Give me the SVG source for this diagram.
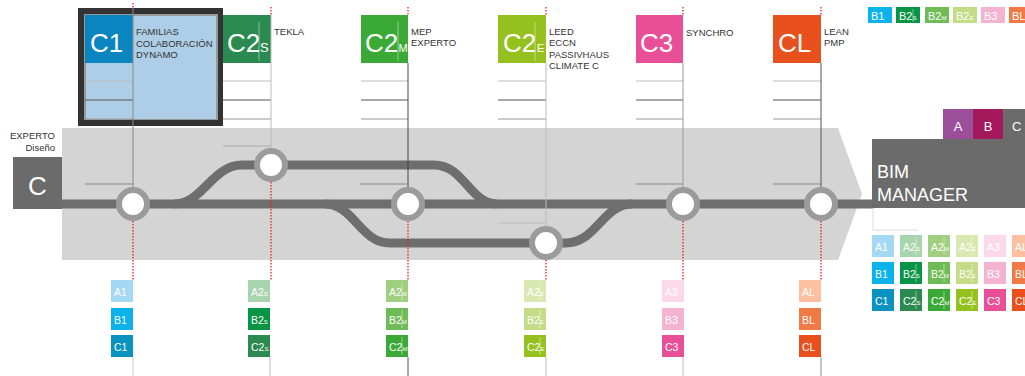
<svg xmlns="http://www.w3.org/2000/svg" width="1025" height="376" viewBox="0 0 1025 376">
<style>
text{font-family:"Liberation Sans",Arial,sans-serif}
.lbl{font-size:9.5px;fill:#333}
.big{font-size:26px;fill:#fff}
.sub{font-size:13px;fill:#fff}
.bt{font-size:10.5px;fill:#fff}
.bs{font-size:6px}
.dv{stroke:#fff;stroke-opacity:.45;stroke-width:1}
.t1{stroke:#bbb;stroke-width:1}
.t2{stroke:#555;stroke-width:1}
.t3{stroke:#999;stroke-width:1}
.t4{stroke:#888;stroke-width:1}
.red{stroke:#e52222;stroke-width:1.3;stroke-dasharray:1.5 1.5;fill:none}
.trk{stroke:#6e6e6e;stroke-width:9;fill:none}
.stn{fill:#fff;stroke:#9b9b9b;stroke-width:6}
.bd{stroke:#fff;stroke-opacity:.35;stroke-width:1}
</style>

<polygon points="62,128 838,128 862,194 838,260 62,260" fill="#d4d4d4"/>

<g id="expert">
<text x="55" y="139" class="lbl" text-anchor="end" fill="#333">EXPERTO</text>
<text x="55" y="151" class="lbl" text-anchor="end">Diseño</text>
<rect x="13" y="157" width="49" height="52" fill="#6b6b6b"/>
<text x="37.5" y="195" class="big" text-anchor="middle">C</text>
</g>

<g id="connectors">
<path class="trk" d="M60,204 H874"/>
<path class="trk" d="M174,204 C203,204 212,165 242,165 H434 C464,165 470,204 497,204"/>
<path class="trk" d="M325,204 C354,204 360,243 390,243 H566 C596,243 603,204 632,204"/>
</g>

<!-- column C1 -->
<g id="col-c1">
<rect x="78" y="8" width="145" height="118" fill="#333"/>
<rect x="84" y="14" width="134" height="106" fill="#999"/>
<rect x="86" y="16" width="130" height="103" fill="#aecde6"/>
<rect x="85" y="15" width="48" height="48" fill="#0b85bf"/>
<line x1="85" y1="81" x2="133" y2="81" class="t1"/>
<line x1="85" y1="100" x2="133" y2="100" class="t2"/>
<line x1="85" y1="119" x2="133" y2="119" class="t3"/>
<line x1="133" y1="8" x2="133" y2="190" stroke="#888"/>
<line x1="85" y1="184" x2="133" y2="184" class="t4"/>
<line x1="133" y1="3" x2="133" y2="8" class="red"/>
<text x="90" y="52" class="big">C1</text>
<text x="136" y="35" class="lbl">FAMILIAS</text>
<text x="136" y="46.5" class="lbl">COLABORACIÓN</text>
<text x="136" y="58" class="lbl">DYNAMO</text>
<circle cx="133" cy="204" r="14" class="stn"/>
<line x1="133" y1="221" x2="133" y2="280" class="red"/>
<rect x="111" y="280" width="22" height="22" fill="#a5d8f3"/>
<text x="114" y="296" class="bt">A1</text>
<rect x="111" y="308" width="22" height="22" fill="#0bb3ea"/>
<text x="114" y="324" class="bt">B1</text>
<rect x="111" y="335" width="22" height="22" fill="#0a93c0"/>
<text x="114" y="351" class="bt">C1</text>
<line x1="133" y1="357" x2="133" y2="376" stroke="#ccc"/>
</g>

<!-- column C2s -->
<g id="col-c2s">
<rect x="223" y="15" width="48" height="48" fill="#2a8a50"/>
<line x1="259" y1="22" x2="259" y2="61" class="dv"/>
<text x="227" y="52" class="big">C2</text>
<text x="260" y="52" class="sub">S</text>
<line x1="223" y1="81" x2="271" y2="81" class="t1"/>
<line x1="223" y1="100" x2="271" y2="100" class="t2"/>
<line x1="223" y1="119" x2="271" y2="119" class="t3"/>
<line x1="271" y1="15" x2="271" y2="151" stroke="#bbb"/>
<line x1="223" y1="146" x2="271" y2="146" stroke="#aaa"/>
<line x1="271" y1="7" x2="271" y2="15" class="red"/>
<text x="274" y="34.5" class="lbl">TEKLA</text>
<circle cx="271" cy="165" r="14" class="stn"/>
<line x1="271" y1="182" x2="271" y2="280" class="red"/>
<rect x="248" y="280" width="22" height="22" fill="#a8d5ad"/>
<text x="251" y="296" class="bt">A2<tspan class="bs">S</tspan></text>
<rect x="248" y="308" width="22" height="22" fill="#079444"/>
<text x="251" y="324" class="bt">B2<tspan class="bs">S</tspan></text>
<rect x="248" y="335" width="22" height="22" fill="#2a8a50"/>
<text x="251" y="351" class="bt">C2<tspan class="bs">S</tspan></text>
<line x1="270" y1="357" x2="270" y2="376" stroke="#bbb"/>
</g>

<!-- column C2M -->
<g id="col-c2m">
<rect x="361" y="15" width="47" height="48" fill="#3aa935"/>
<line x1="398" y1="22" x2="398" y2="61" class="dv"/>
<text x="365" y="52" class="big">C2</text>
<text x="398.5" y="52" class="sub" style="font-size:11px">M</text>
<line x1="361" y1="81" x2="408" y2="81" class="t1"/>
<line x1="361" y1="100" x2="408" y2="100" class="t2"/>
<line x1="361" y1="119" x2="408" y2="119" class="t3"/>
<line x1="408" y1="63" x2="408" y2="190" stroke="#444"/>
<line x1="360" y1="184" x2="408" y2="184" class="t4"/>
<line x1="408" y1="7" x2="408" y2="15" class="red"/>
<text x="411" y="34.5" class="lbl">MEP</text>
<text x="411" y="46" class="lbl">EXPERTO</text>
<circle cx="408" cy="204" r="14" class="stn"/>
<line x1="408" y1="221" x2="408" y2="280" class="red"/>
<rect x="386" y="280" width="22" height="22" fill="#9fcf7f"/>
<line x1="402" y1="282" x2="402" y2="300" class="dv"/>
<text x="389" y="296" class="bt">A2<tspan class="bs">M</tspan></text>
<rect x="386" y="308" width="22" height="22" fill="#6fbb55"/>
<line x1="402" y1="310" x2="402" y2="328" class="dv"/>
<text x="389" y="324" class="bt">B2<tspan class="bs">M</tspan></text>
<rect x="386" y="335" width="22" height="22" fill="#3aa935"/>
<line x1="402" y1="337" x2="402" y2="355" class="dv"/>
<text x="389" y="351" class="bt">C2<tspan class="bs">M</tspan></text>
<line x1="408" y1="357" x2="408" y2="376" stroke="#555"/>
</g>

<!-- column C2E -->
<g id="col-c2e">
<rect x="498" y="15" width="48" height="48" fill="#95c11f"/>
<line x1="535" y1="22" x2="535" y2="61" class="dv"/>
<text x="503" y="52" class="big">C2</text>
<text x="537" y="52" class="sub" style="font-size:11px">E</text>
<line x1="498" y1="81" x2="546" y2="81" class="t1"/>
<line x1="498" y1="100" x2="546" y2="100" class="t2"/>
<line x1="498" y1="119" x2="546" y2="119" class="t3"/>
<line x1="546" y1="63" x2="546" y2="229" stroke="#bbb"/>
<line x1="498" y1="223" x2="546" y2="223" stroke="#bbb"/>
<line x1="546" y1="7" x2="546" y2="15" class="red"/>
<text x="549" y="34.5" class="lbl">LEED</text>
<text x="549" y="46" class="lbl">ECCN</text>
<text x="549" y="57.5" class="lbl">PASSIVHAUS</text>
<text x="549" y="69" class="lbl">CLIMATE C</text>
<circle cx="546" cy="243" r="14" class="stn"/>
<line x1="546" y1="260" x2="546" y2="280" class="red"/>
<rect x="524" y="280" width="22" height="22" fill="#d8e8b0"/>
<line x1="540" y1="282" x2="540" y2="300" class="dv"/>
<text x="527" y="296" class="bt">A2<tspan class="bs">E</tspan></text>
<rect x="524" y="308" width="22" height="22" fill="#c4dc86"/>
<line x1="540" y1="310" x2="540" y2="328" class="dv"/>
<text x="527" y="324" class="bt">B2<tspan class="bs">E</tspan></text>
<rect x="524" y="335" width="22" height="22" fill="#95c11f"/>
<line x1="540" y1="337" x2="540" y2="355" class="dv"/>
<text x="527" y="351" class="bt">C2<tspan class="bs">E</tspan></text>
<line x1="546" y1="357" x2="546" y2="376" stroke="#bbb"/>
</g>

<!-- column C3 -->
<g id="col-c3">
<rect x="636" y="15" width="47" height="48" fill="#e94f96"/>
<text x="640" y="52" class="big">C3</text>
<line x1="636" y1="81" x2="683" y2="81" class="t1"/>
<line x1="636" y1="100" x2="683" y2="100" class="t2"/>
<line x1="636" y1="119" x2="683" y2="119" class="t3"/>
<line x1="683" y1="63" x2="683" y2="190" stroke="#999"/>
<line x1="636" y1="184" x2="683" y2="184" class="t4"/>
<line x1="683" y1="7" x2="683" y2="15" class="red"/>
<text x="686" y="35.5" class="lbl">SYNCHRO</text>
<circle cx="683" cy="204" r="14" class="stn"/>
<line x1="683" y1="221" x2="683" y2="280" class="red"/>
<rect x="662" y="280" width="22" height="22" fill="#fbd9e9"/>
<text x="665" y="296" class="bt">A3</text>
<rect x="662" y="308" width="22" height="22" fill="#f4b3d0"/>
<text x="665" y="324" class="bt">B3</text>
<rect x="662" y="335" width="22" height="22" fill="#e94f96"/>
<text x="665" y="351" class="bt">C3</text>
<line x1="683" y1="357" x2="683" y2="376" stroke="#bbb"/>
</g>

<!-- column CL -->
<g id="col-cl">
<rect x="773" y="15" width="48" height="48" fill="#e8501e"/>
<text x="778" y="52" class="big">CL</text>
<line x1="773" y1="81" x2="821" y2="81" class="t1"/>
<line x1="773" y1="100" x2="821" y2="100" class="t2"/>
<line x1="773" y1="119" x2="821" y2="119" class="t3"/>
<line x1="821" y1="63" x2="821" y2="190" stroke="#555"/>
<line x1="773" y1="184" x2="821" y2="184" class="t4"/>
<line x1="821" y1="7" x2="821" y2="15" class="red"/>
<text x="824" y="34.5" class="lbl">LEAN</text>
<text x="824" y="46" class="lbl">PMP</text>
<circle cx="821" cy="204" r="14" class="stn"/>
<line x1="821" y1="221" x2="821" y2="280" class="red"/>
<rect x="799" y="280" width="22" height="22" fill="#fcc0a0"/>
<text x="802" y="296" class="bt">AL</text>
<rect x="799" y="308" width="22" height="22" fill="#ef7a45"/>
<text x="802" y="324" class="bt">BL</text>
<rect x="799" y="335" width="22" height="22" fill="#e8501e"/>
<text x="802" y="351" class="bt">CL</text>
<line x1="821" y1="357" x2="821" y2="376" stroke="#888"/>
</g>

<!-- BIM manager -->
<g id="bim-manager">
<rect x="943" y="109" width="30" height="30" fill="#9b4f9b"/>
<text x="958" y="131" class="bt" style="font-size:13px" text-anchor="middle">A</text>
<rect x="973" y="109" width="30" height="30" fill="#a3195b"/>
<text x="988" y="131" class="bt" style="font-size:13px" text-anchor="middle">B</text>
<rect x="1003" y="109" width="30" height="30" fill="#6b6b6b"/>
<text x="1012" y="131" class="bt" style="font-size:13px">C</text>
<rect x="872" y="139" width="153" height="69" fill="#6b6b6b"/>
<text x="877" y="178" fill="#fff" style="font-size:18px">BIM</text>
<text x="877" y="201" fill="#fff" style="font-size:18px">MANAGER</text>
<polyline points="873,208 873,230 918,230" fill="none" stroke="#ddd"/>
</g>

<!-- top legend row -->
<g id="legend-top">
<rect x="868" y="7" width="24" height="16" fill="#0bb3ea"/>
<text x="871" y="20" class="bt" style="font-size:11px">B1</text>
<rect x="896" y="7" width="24" height="16" fill="#079444"/>
<line x1="913" y1="9" x2="913" y2="22" class="dv"/>
<text x="899" y="20" class="bt" style="font-size:11px">B2<tspan class="bs">S</tspan></text>
<rect x="925" y="7" width="24" height="16" fill="#6fbb55"/>
<text x="928" y="20" class="bt" style="font-size:11px">B2<tspan class="bs">M</tspan></text>
<rect x="953" y="7" width="24" height="16" fill="#c4dc86"/>
<text x="956" y="20" class="bt" style="font-size:11px">B2<tspan class="bs">E</tspan></text>
<rect x="981" y="7" width="24" height="16" fill="#f4b3d0"/>
<text x="984" y="20" class="bt" style="font-size:11px">B3</text>
<rect x="1009" y="7" width="24" height="16" fill="#ef7a45"/>
<text x="1012" y="20" class="bt" style="font-size:11px">BL</text>
</g>

<!-- right legend grid -->
<g id="legend-grid">
<rect x="872" y="235" width="22" height="22" fill="#a5d8f3"/>
<text x="875" y="251" class="bt">A1</text>
<rect x="900" y="235" width="22" height="22" fill="#a8d5ad"/>
<line x1="916" y1="237" x2="916" y2="255" class="dv"/>
<text x="903" y="251" class="bt">A2<tspan class="bs">S</tspan></text>
<rect x="928" y="235" width="22" height="22" fill="#9fcf7f"/>
<line x1="944" y1="237" x2="944" y2="255" class="dv"/>
<text x="931" y="251" class="bt">A2<tspan class="bs">M</tspan></text>
<rect x="956" y="235" width="22" height="22" fill="#d8e8b0"/>
<line x1="972" y1="237" x2="972" y2="255" class="dv"/>
<text x="959" y="251" class="bt">A2<tspan class="bs">E</tspan></text>
<rect x="984" y="235" width="22" height="22" fill="#fbd9e9"/>
<text x="987" y="251" class="bt">A3</text>
<rect x="1012" y="235" width="22" height="22" fill="#fcc0a0"/>
<text x="1015" y="251" class="bt">AL</text>

<rect x="872" y="262" width="22" height="22" fill="#0bb3ea"/>
<text x="875" y="278" class="bt">B1</text>
<rect x="900" y="262" width="22" height="22" fill="#079444"/>
<line x1="916" y1="264" x2="916" y2="282" class="dv"/>
<text x="903" y="278" class="bt">B2<tspan class="bs">S</tspan></text>
<rect x="928" y="262" width="22" height="22" fill="#6fbb55"/>
<line x1="944" y1="264" x2="944" y2="282" class="dv"/>
<text x="931" y="278" class="bt">B2<tspan class="bs">M</tspan></text>
<rect x="956" y="262" width="22" height="22" fill="#c4dc86"/>
<line x1="972" y1="264" x2="972" y2="282" class="dv"/>
<text x="959" y="278" class="bt">B2<tspan class="bs">E</tspan></text>
<rect x="984" y="262" width="22" height="22" fill="#f4b3d0"/>
<text x="987" y="278" class="bt">B3</text>
<rect x="1012" y="262" width="22" height="22" fill="#ef7a45"/>
<text x="1015" y="278" class="bt">BL</text>

<rect x="872" y="289" width="22" height="22" fill="#0a93c0"/>
<text x="875" y="305" class="bt">C1</text>
<rect x="900" y="289" width="22" height="22" fill="#2a8a50"/>
<line x1="916" y1="291" x2="916" y2="309" class="dv"/>
<text x="903" y="305" class="bt">C2<tspan class="bs">S</tspan></text>
<rect x="928" y="289" width="22" height="22" fill="#3aa935"/>
<line x1="944" y1="291" x2="944" y2="309" class="dv"/>
<text x="931" y="305" class="bt">C2<tspan class="bs">M</tspan></text>
<rect x="956" y="289" width="22" height="22" fill="#95c11f"/>
<line x1="972" y1="291" x2="972" y2="309" class="dv"/>
<text x="959" y="305" class="bt">C2<tspan class="bs">E</tspan></text>
<rect x="984" y="289" width="22" height="22" fill="#e94f96"/>
<text x="987" y="305" class="bt">C3</text>
<rect x="1012" y="289" width="22" height="22" fill="#e8501e"/>
<text x="1015" y="305" class="bt">CL</text>
</g>
</svg>
